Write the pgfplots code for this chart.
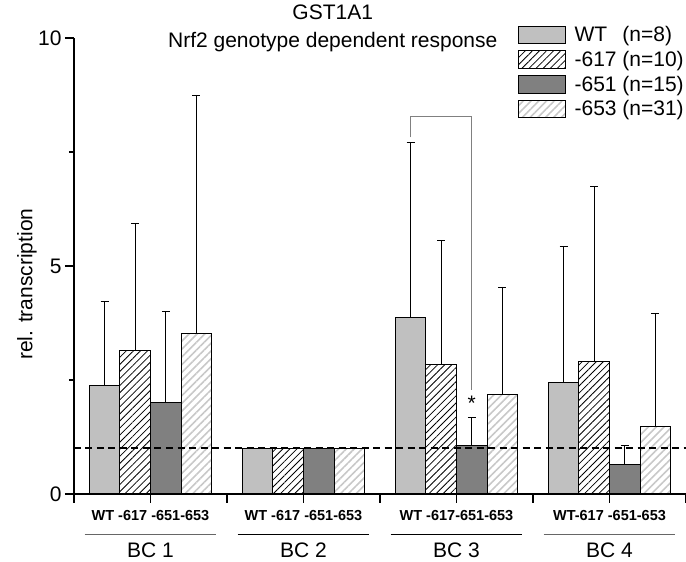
\documentclass[border=0pt]{standalone}
\usepackage{fontspec}
\setmainfont{Liberation Sans}
\usepackage{pgfplots}
\usepackage{pgfplotstable}
\pgfplotsset{compat=1.18}
\usetikzlibrary{patterns.meta}

\definecolor{wtfill}{RGB}{192,192,192}
\definecolor{fill651}{RGB}{128,128,128}
\definecolor{hatch653}{RGB}{200,200,200}
\newcommand\fs{\fontsize{21}{25}\selectfont}
\newcommand\fb{\fontsize{14.5}{17}\selectfont\bfseries}

% x = group + offset, y = mean, ey = upper error (BC 2 is the reference, 1 without error)
\pgfplotstableread{
x y ey
0.7 2.39 1.84
2.7 3.88 3.82
3.7 2.45 2.97
}\wt
\pgfplotstableread{
x y ey
0.9 3.14 2.80
2.9 2.84 2.73
3.9 2.90 3.85
}\six
\pgfplotstableread{
x y ey
1.1 2.00 2.01
3.1 1.07 0.61
4.1 0.64 0.42
}\fiveone
\pgfplotstableread{
x y ey
1.3 3.53 5.22
3.3 2.19 2.35
4.3 1.47 2.48
}\fivethree

\begin{document}
\begin{tikzpicture}
\begin{axis}[
  scale only axis, width=612pt, height=456pt,
  xmin=0.5, xmax=4.5, ymin=0, ymax=10,
  axis lines*=left,
  axis line style={line width=1.2pt},
  xtick={0.5,1,...,4.5}, xticklabels={,,,,,,,,},
  ytick={0,5,10}, minor ytick={2.5,7.5},
  tick align=outside, major tick length=9pt, minor tick length=5pt,
  tick style={line width=1.2pt, black},
  ticklabel style={font=\fs},
  /pgf/number format/assume math mode=true,
  ylabel={rel. transcription},
  every axis y label/.style={at={([xshift=-47pt]rel axis cs:0,0.46)}, rotate=90, font=\fs},
  clip=false,
  legend style={draw=none, fill=none, at={(rel axis cs:0.7255,1.03)}, anchor=north west,
    inner sep=0pt, row sep=4pt, font=\fs,
    /tikz/every odd column/.append style={column sep=6.4pt}},
  legend cell align=left,
  barbase/.style={ybar, bar width=0.2, bar shift=0pt, draw=black, line width=1pt,
    legend image code/.code={\draw[##1] (0pt,-8.7pt) rectangle (47pt,8.7pt);}},
  mybar/.style={barbase,
    error bars/y dir=plus, error bars/y explicit,
    error bars/error bar style={line width=0.9pt, black},
    error bars/error mark options={rotate=90, line width=0.9pt, black, mark size=4pt}},
  wtstyle/.style={fill=wtfill},
  s617/.style={pattern={Lines[angle=45,distance=5pt,line width=0.8pt]}, pattern color=black},
  s651/.style={fill=fill651},
  s653/.style={pattern={Lines[angle=45,distance=5.5pt,line width=1.6pt]}, pattern color=hatch653},
]
\addplot[mybar, wtstyle] table[x=x, y=y, y error=ey] {\wt};
\addlegendentry{\rlap{WT}\phantom{-617} (n=8)}
\addplot[mybar, s617] table[x=x, y=y, y error=ey] {\six};
\addlegendentry{-617 (n=10)}
\addplot[mybar, s651] table[x=x, y=y, y error=ey] {\fiveone};
\addlegendentry{-651 (n=15)}
\addplot[mybar, s653] table[x=x, y=y, y error=ey] {\fivethree};
\addlegendentry{-653 (n=31)}
% BC 2 (reference group, all 1)
\addplot[barbase, wtstyle, forget plot] coordinates {(1.7,1)};
\addplot[barbase, s617, forget plot] coordinates {(1.9,1)};
\addplot[barbase, s651, forget plot] coordinates {(2.1,1)};
\addplot[barbase, s653, forget plot] coordinates {(2.3,1)};

% reference level
\addplot[forget plot, black, line width=2pt, dash pattern=on 7pt off 4.5pt] coordinates {(0.5,1) (4.5,1)};
% significance bracket WT vs -651 in BC 3
\addplot[forget plot, gray, line width=0.9pt] coordinates {(2.7,7.82) (2.7,8.27) (3.1,8.27) (3.1,2.27)};
\node[font=\fs] at (axis cs:3.1,1.98) {*};

% x axis line runs a little past the y axis
\draw[line width=1.2pt] ([xshift=-8pt]rel axis cs:0,0) -- (rel axis cs:0,0);

% titles
\node[anchor=base, font=\fs] at ([yshift=18pt]rel axis cs:0.4228,1) {GST1A1};
\node[anchor=base, font=\fs] at ([yshift=-10pt]rel axis cs:0.4228,1) {Nrf2 genotype dependent response};

% group labels
\node[font=\fb] at ([yshift=-22pt]axis cs:1,0) {WT -617 -651-653};
\node[font=\fb] at ([yshift=-22pt]axis cs:2,0) {WT -617 -651-653};
\node[font=\fb] at ([yshift=-22pt]axis cs:3,0) {WT -617-651-653};
\node[font=\fb] at ([yshift=-22pt]axis cs:4,0) {WT-617 -651-653};
\draw[gray!80!black, line width=1pt] ([yshift=-41pt]axis cs:0.57,0) -- ([yshift=-41pt]axis cs:1.43,0);
\draw[black, line width=1pt] ([yshift=-41pt]axis cs:1.57,0) -- ([yshift=-41pt]axis cs:2.43,0);
\draw[black, line width=1pt] ([yshift=-41pt]axis cs:2.57,0) -- ([yshift=-41pt]axis cs:3.43,0);
\draw[gray!80!black, line width=1pt] ([yshift=-41pt]axis cs:3.57,0) -- ([yshift=-41pt]axis cs:4.43,0);
\node[font=\fs, inner sep=0pt] at ([yshift=-56.5pt]axis cs:1,0) {BC 1};
\node[font=\fs, inner sep=0pt] at ([yshift=-56.5pt]axis cs:2,0) {BC 2};
\node[font=\fs, inner sep=0pt] at ([yshift=-56.5pt]axis cs:3,0) {BC 3};
\node[font=\fs, inner sep=0pt] at ([yshift=-56.5pt]axis cs:4,0) {BC 4};
\end{axis}
\pgfresetboundingbox
\path[use as bounding box] ([shift={(-74pt,-68pt)}]current axis.south west) rectangle ([yshift=38pt]current axis.north east);
\end{tikzpicture}
\end{document}
